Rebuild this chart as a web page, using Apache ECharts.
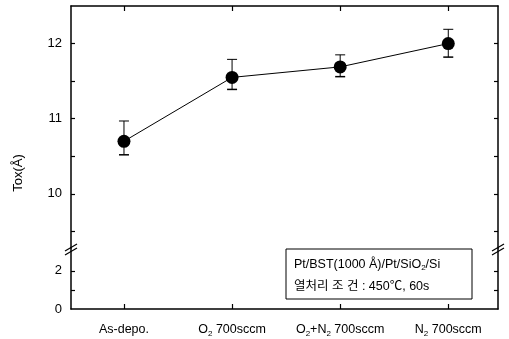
<!DOCTYPE html>
<html>
<head>
<meta charset="utf-8">
<script src="https://cdn.jsdelivr.net/npm/echarts@6/dist/echarts.min.js"></script>
<style>
  html, body { margin: 0; padding: 0; background: #fff; }
  #chart { width: 509px; height: 339px; }
</style>
</head>
<body>
<div id="chart"></div>
<script>
// data
var categories = ['As-depo.', 'O{s|2} 700sccm', 'O{s|2}+N{s|2} 700sccm', 'N{s|2} 700sccm'];
var xPos = [1, 2, 3, 4];
var tox = [10.70, 11.55, 11.69, 12.00];
var toxLow = [10.52, 11.39, 11.56, 11.82];
var toxHigh = [10.97, 11.79, 11.85, 12.19];

var upperLabels = [10, 11, 12];
var upperTicks = [9.5, 10, 10.5, 11, 11.5, 12];
var lowerLabels = [0, 2];
var lowerTicks = [1, 2];

var font = 'Liberation Sans, Arial, sans-serif';
var black = '#000';

var myChart = echarts.init(document.getElementById('chart'));

var lineData = xPos.map(function (x, i) { return [x, tox[i]]; });
var errData = xPos.map(function (x, i) { return [x, toxLow[i], toxHigh[i]]; });

function yAxisBase(grid, pos, min, max, ticks, labels) {
  return {
    type: 'value', gridIndex: grid, position: pos, min: min, max: max,
    axisLine: { show: true, lineStyle: { color: black, width: 1.5 } },
    axisTick: { show: true, inside: true, length: 4, customValues: ticks, lineStyle: { color: black, width: 1.2 } },
    axisLabel: labels ? { show: true, customValues: labels, color: black, fontSize: 13, fontFamily: font, margin: 9 } : { show: false },
    splitLine: { show: false }
  };
}

function xAxisBase(grid, pos, showLabels) {
  return {
    type: 'value', gridIndex: grid, position: pos, min: 0.51, max: 4.46,
    axisLine: { show: true, onZero: false, lineStyle: { color: black, width: 1.5 } },
    axisTick: { show: true, inside: true, length: 5, customValues: xPos, lineStyle: { color: black, width: 1.2 } },
    axisLabel: showLabels ? {
      show: true, customValues: xPos, color: black, fontSize: 12.5, fontFamily: font, margin: 12, lineHeight: 17,
      formatter: function (v) { return categories[Math.round(v) - 1]; },
      rich: { s: { fontSize: 8, fontFamily: font, color: black, padding: [5, 0, 0, 0], verticalAlign: 'bottom' } }
    } : { show: false },
    splitLine: { show: false }
  };
}

var option = {
  animation: false,
  backgroundColor: '#fff',
  grid: [
    { left: 71, right: 11, top: 6, height: 242 },
    { left: 71, right: 11, top: 248, height: 61 }
  ],
  xAxis: [
    xAxisBase(0, 'top', false),
    xAxisBase(1, 'bottom', true)
  ],
  yAxis: [
    yAxisBase(0, 'left', 9.28, 12.5, upperTicks, upperLabels),
    yAxisBase(0, 'right', 9.28, 12.5, upperTicks, null),
    yAxisBase(1, 'left', 0, 3.2, lowerTicks, lowerLabels),
    yAxisBase(1, 'right', 0, 3.2, lowerTicks, null)
  ],
  series: [
    {
      type: 'custom',
      xAxisIndex: 0, yAxisIndex: 0,
      data: errData,
      z: 2,
      renderItem: function (params, api) {
        var x = api.value(0);
        var lo = api.coord([x, api.value(1)]);
        var hi = api.coord([x, api.value(2)]);
        var w = 5;
        var st = { stroke: black, lineWidth: 1 };
        return {
          type: 'group',
          children: [
            { type: 'line', shape: { x1: lo[0], y1: lo[1], x2: hi[0], y2: hi[1] }, style: st },
            { type: 'line', shape: { x1: lo[0] - w, y1: lo[1], x2: lo[0] + w, y2: lo[1] }, style: { stroke: black, lineWidth: 1.5 } },
            { type: 'line', shape: { x1: hi[0] - w, y1: hi[1], x2: hi[0] + w, y2: hi[1] }, style: st }
          ]
        };
      }
    },
    {
      type: 'line',
      xAxisIndex: 0, yAxisIndex: 0,
      data: lineData,
      z: 3,
      symbol: 'circle',
      symbolSize: 13,
      itemStyle: { color: black },
      lineStyle: { color: black, width: 1 }
    }
  ],
  graphic: [
    {
      type: 'text', x: 18, y: 173, rotation: Math.PI / 2,
      style: { text: 'Tox(Å)', fontSize: 13, fontFamily: font, fill: black, align: 'center', verticalAlign: 'middle' }
    },
    // axis break marks
    { type: 'line', shape: { x1: 65, y1: 251, x2: 77, y2: 244 }, style: { stroke: black, lineWidth: 1.2 } },
    { type: 'line', shape: { x1: 65, y1: 255, x2: 77, y2: 248 }, style: { stroke: black, lineWidth: 1.2 } },
    { type: 'line', shape: { x1: 492, y1: 251, x2: 504, y2: 244 }, style: { stroke: black, lineWidth: 1.2 } },
    { type: 'line', shape: { x1: 492, y1: 255, x2: 504, y2: 248 }, style: { stroke: black, lineWidth: 1.2 } },
    // annotation box
    {
      type: 'rect', shape: { x: 286, y: 249, width: 186, height: 50 },
      style: { fill: '#fff', stroke: black, lineWidth: 1 }
    },
    {
      type: 'text', x: 294, y: 265,
      style: {
        text: 'Pt/BST(1000 Å)/Pt/SiO{s|2}/Si', fontSize: 12.5, fontFamily: font, fill: black, verticalAlign: 'middle',
        rich: { s: { fontSize: 8, fontFamily: font, fill: black, padding: [6, 0, 0, 0] } }
      }
    },
    {
      type: 'text', x: 294, y: 287,
      style: { text: '열처리 조 건 : 450℃, 60s', fontSize: 12.5, fontFamily: 'Liberation Sans, Noto Sans CJK KR, sans-serif', fill: black, verticalAlign: 'middle' }
    }
  ]
};

myChart.setOption(option);
</script>
</body>
</html>
